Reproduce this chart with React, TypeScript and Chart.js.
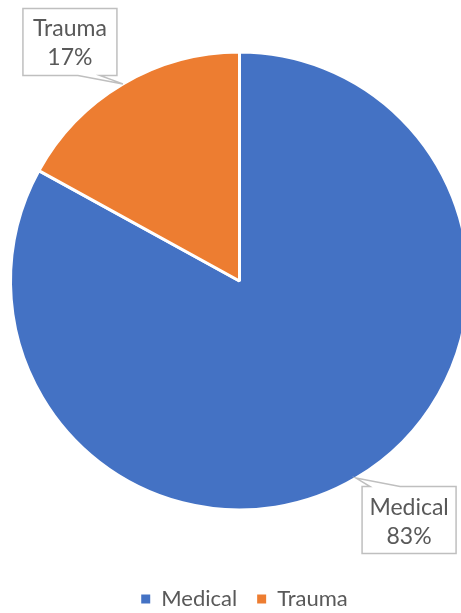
import React, { useEffect, useRef } from "react";
import { Chart, registerables } from "chart.js";

Chart.register(...registerables);

const categories = ["Medical", "Trauma"];
const values = [83, 17];
const colors = ["#4472C4", "#ED7D31"];

const FONT = "Lato, 'Open Sans', sans-serif";
const TEXT_COLOR = "#595959";

const calloutPlugin = {
  id: "callouts",
  afterDatasetsDraw(chart: any) {
    const ctx = chart.ctx;
    const meta = chart.getDatasetMeta(0);
    const total = values.reduce((a, b) => a + b, 0);
    meta.data.forEach((arc: any, i: number) => {
      const p = arc.getProps(["x", "y", "startAngle", "endAngle", "outerRadius"], true);
      const mid = (p.startAngle + p.endAngle) / 2;
      const cos = Math.cos(mid);
      const sin = Math.sin(mid);
      const tipX = p.x + cos * p.outerRadius;
      const tipY = p.y + sin * p.outerRadius;
      const w = 94;
      const h = 67;
      const cx = tipX + Math.sign(cos) * 53;
      const cy = tipY + Math.sign(sin) * 42;
      const left = cx - w / 2;
      const top = cy - h / 2;
      const right = left + w;
      const bottom = top + h;
      let b1: number, b2: number;
      if (cos < 0) {
        b1 = right - 39;
        b2 = right - 17;
      } else {
        b1 = left + 8;
        b2 = left + 38;
      }
      ctx.save();
      ctx.beginPath();
      if (sin < 0) {
        ctx.moveTo(left, top);
        ctx.lineTo(right, top);
        ctx.lineTo(right, bottom);
        ctx.lineTo(b2, bottom);
        ctx.lineTo(tipX, tipY);
        ctx.lineTo(b1, bottom);
        ctx.lineTo(left, bottom);
      } else {
        ctx.moveTo(left, top);
        ctx.lineTo(b1, top);
        ctx.lineTo(tipX, tipY);
        ctx.lineTo(b2, top);
        ctx.lineTo(right, top);
        ctx.lineTo(right, bottom);
        ctx.lineTo(left, bottom);
      }
      ctx.closePath();
      ctx.fillStyle = "#ffffff";
      ctx.fill();
      ctx.lineWidth = 1.5;
      ctx.strokeStyle = "#BFBFBF";
      ctx.stroke();
      ctx.fillStyle = TEXT_COLOR;
      ctx.font = `23px ${FONT}`;
      ctx.textAlign = "center";
      ctx.textBaseline = "alphabetic";
      ctx.fillText(categories[i], cx, top + 28);
      ctx.fillText(Math.round((values[i] / total) * 100) + "%", cx, top + 57);
      ctx.restore();
    });
  },
};

const legendShift = {
  id: "legendShift",
  afterLayout(chart: any) {
    if (chart.legend) {
      chart.legend.left += 5;
      chart.legend.right += 5;
    }
  },
};

export default function App() {
  const canvasRef = useRef<HTMLCanvasElement | null>(null);

  useEffect(() => {
    document.body.style.margin = "0";
    const canvas = canvasRef.current;
    if (!canvas) return;
    const chart = new Chart(canvas, {
      type: "pie",
      data: {
        labels: categories,
        datasets: [
          {
            data: values,
            backgroundColor: colors,
            borderColor: "#ffffff",
            borderWidth: 3,
            radius: 229,
          } as any,
        ],
      },
      options: {
        responsive: false,
        animation: false,
        layout: { padding: { top: 4, left: 0, right: 0, bottom: 0 } },
        plugins: {
          legend: {
            position: "bottom",
            labels: {
              boxWidth: 9,
              boxHeight: 9,
              padding: 20,
              color: TEXT_COLOR,
              font: { family: FONT, size: 22 },
              generateLabels: (c: any) =>
                c.data.labels.map((t: string, i: number) => ({
                  text: t,
                  fillStyle: colors[i],
                  strokeStyle: colors[i],
                  lineWidth: 0,
                  fontColor: TEXT_COLOR,
                  hidden: false,
                  index: i,
                })),
            },
          },
          tooltip: { enabled: false },
        },
      },
      plugins: [calloutPlugin, legendShift],
    });
    return () => chart.destroy();
  }, []);

  return (
    <div
      style={{
        position: "fixed",
        left: 0,
        top: 0,
        width: 461,
        height: 613,
        overflow: "hidden",
        background: "#ffffff",
      }}
    >
      <canvas
        ref={canvasRef}
        width={479}
        height={630}
        style={{ position: "absolute", left: 0, top: -10, width: 479, height: 630 }}
      />
    </div>
  );
}
